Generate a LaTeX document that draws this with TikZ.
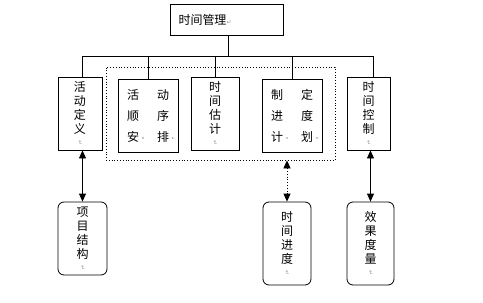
\documentclass[tikz,border=0pt]{standalone}
\usepackage{fontspec}
\usepackage{tikz}
\usetikzlibrary{positioning, arrows.meta, calc}
\usepackage{xcolor}
\newfontfamily\cjk{Noto Sans CJK SC}
\newfontfamily\symfont{DejaVu Sans}
\newcommand{\pmark}{{\color{gray!80}\symfont\fontsize{6}{6}\selectfont\rotatebox[origin=c]{-90}{↵}}}
\newcommand{\smark}{\rlap{\color{gray!80}\fontsize{8}{8}\selectfont ·}}

\begin{document}
\begin{tikzpicture}[
    x=1pt, y=-1pt,
    box/.style={rectangle, draw, line width=0.8pt, inner sep=0pt, minimum height=73pt,
                align=center, font=\cjk\fontsize{12}{14}\selectfont},
    rbox/.style={box, rounded corners=6pt},
    grp/.style={rectangle, draw, dotted, line width=0.8pt, inner sep=0pt},
    link/.style={line width=0.8pt},
    >={Triangle[length=8pt, width=7pt]}
]
\useasboundingbox (0,0) rectangle (483,303);

\node[grp, minimum width=229pt, minimum height=93pt] (grp) at (220.5,113.5) {};

\node[box, minimum width=113pt, minimum height=31pt, text width=96pt, align=left] (mgmt) at (226.5,19.5) {时间管理{\color{gray!80}\symfont\fontsize{6}{6}\selectfont ↵}};

\node[box, minimum width=44pt] (def) at (80,113.5) {活\\动\\定\\义\\[-3pt]\pmark};
\node[box, minimum width=60pt, font=\cjk\fontsize{12}{21}\selectfont] (seq) at (148,115.5) {活\hspace{18pt}动\\顺\hspace{18pt}序\\安\smark\hspace{18pt}排\smark};
\node[box, minimum width=48pt] (est) at (215,113.5) {时\\间\\估\\计\\[-3pt]\pmark};
\node[box, minimum width=60pt, font=\cjk\fontsize{12}{21}\selectfont] (sched) at (292,115.5) {制\hspace{18pt}定\\进\hspace{18pt}度\\计\smark\hspace{18pt}划\smark};
\node[box, minimum width=43pt] (ctrl) at (368.5,113.5) {时\\间\\控\\制\\[-3pt]\pmark};

\node[rbox, minimum width=49pt] (wbs) at (82.5,238.5) {项\\目\\结\\构\\[-3pt]\pmark};
\node[rbox, minimum width=48pt, minimum height=83pt] (prog) at (287,243.5) {时\\间\\进\\度\\[-3pt]\pmark};
\node[rbox, minimum width=47pt, minimum height=83pt] (meas) at (370.5,243.5) {效\\果\\度\\量\\[-3pt]\pmark};

% tree lines
\coordinate (bus) at (228,56);
\draw[link] (mgmt.south -| bus) -- (bus);
\draw[link] (bus -| 82,0) -- (bus -| 373,0);
\draw[link] (82,56) -- (def.north -| 82,0);
\foreach \n in {seq, est, sched} {
    \draw[link] (bus -| \n.north) -- (\n.north);
}
\draw[link] (373,56) -- (ctrl.north -| 373,0);

% arrows
\draw[link, <->] (wbs.north |- def.south) -- (wbs.north);
\draw[link, dotted, <->] (prog.north |- grp.south) -- (prog.north);
\draw[link, <->] (meas.north |- ctrl.south) -- (meas.north);
\end{tikzpicture}
\end{document}
